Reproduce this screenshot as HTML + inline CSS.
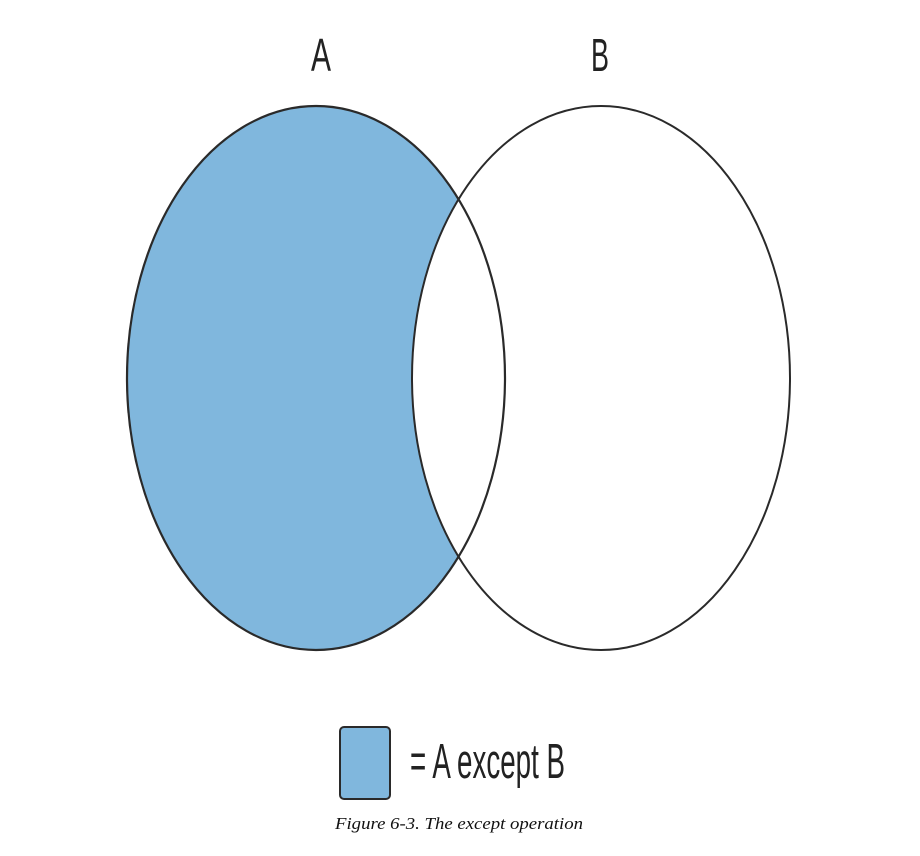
<!DOCTYPE html>
<html><head><meta charset="utf-8"><style>
html,body{margin:0;padding:0;background:#fff;width:920px;height:856px;overflow:hidden}
</style></head><body>
<svg width="920" height="856" viewBox="0 0 920 856">
<defs>
<clipPath id="clipB"><ellipse cx="601" cy="378" rx="189" ry="272"/></clipPath>
<mask id="maskA"><rect width="920" height="856" fill="#fff"/><ellipse cx="601" cy="378" rx="189" ry="272" fill="#000"/></mask>
</defs>
<ellipse cx="316" cy="378" rx="189" ry="272" fill="#80b7dd" mask="url(#maskA)"/>
<ellipse cx="316" cy="378" rx="189" ry="272" fill="none" stroke="#2a2a2a" stroke-width="2.2"/>
<ellipse cx="601" cy="378" rx="189" ry="272" fill="none" stroke="#2a2a2a" stroke-width="2"/>
<text x="311" y="71" font-family="Liberation Sans, sans-serif" font-size="46" textLength="20" lengthAdjust="spacingAndGlyphs" fill="#222">A</text>
<text x="591" y="71" font-family="Liberation Sans, sans-serif" font-size="46" textLength="18" lengthAdjust="spacingAndGlyphs" fill="#222">B</text>
<rect x="340" y="727" width="50" height="72" rx="4" fill="#80b7dd" stroke="#2a2a2a" stroke-width="2"/>
<text x="410" y="778" font-family="Liberation Sans, sans-serif" font-size="49" textLength="155" lengthAdjust="spacingAndGlyphs" fill="#222">= A except B</text>
<text x="335" y="829" font-family="Liberation Serif, serif" font-style="italic" font-size="17" textLength="248" lengthAdjust="spacingAndGlyphs" fill="#111">Figure 6-3. The except operation</text>
</svg>
</body></html>
